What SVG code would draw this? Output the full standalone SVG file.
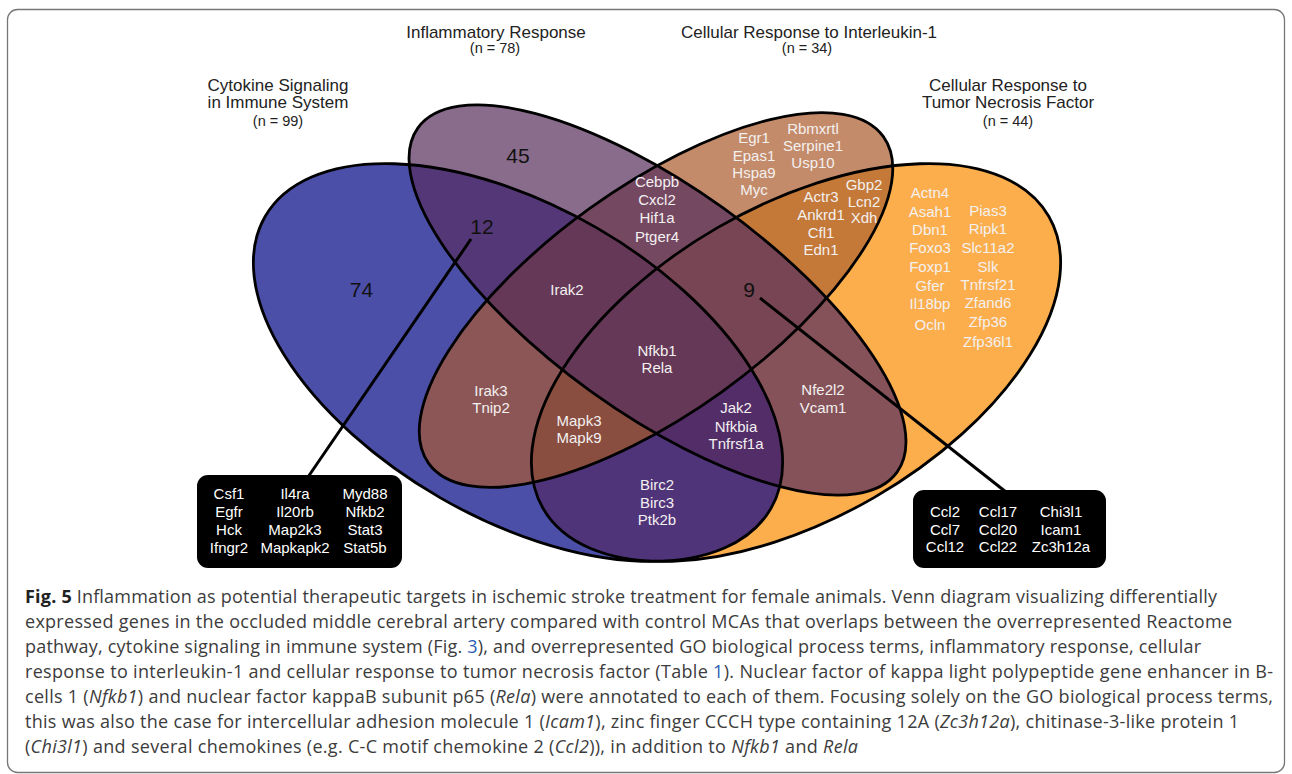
<svg xmlns="http://www.w3.org/2000/svg" width="1292" height="774" viewBox="0 0 1292 774">
<style>
.ttl{font-family:"Liberation Sans",Arial,sans-serif;font-size:17px;fill:#222;text-anchor:middle}
.n{font-family:"Liberation Sans",Arial,sans-serif;font-size:14.5px;fill:#222;text-anchor:middle}
.num{font-family:"Liberation Sans",Arial,sans-serif;font-size:21px;fill:#111;text-anchor:middle}
.g{font-family:"Liberation Sans",Arial,sans-serif;font-size:15px;fill:#F3F0F0;text-anchor:middle}
.bx{font-family:"Liberation Sans",Arial,sans-serif;font-size:15px;fill:#fff;text-anchor:middle}
.cap{font-family:"Open Sans","Noto Sans",sans-serif;font-size:18px;fill:#3c3c3c}
.outl{fill:none;stroke:#000;stroke-width:2.8}
.con{stroke:#000;stroke-width:3;fill:none}
</style>
<defs>
<clipPath id="cA"><ellipse cx="0" cy="0" rx="292" ry="156" transform="translate(518 362.5) rotate(30)"/></clipPath>
<clipPath id="cB"><ellipse cx="0" cy="0" rx="295" ry="113" transform="translate(657.5 300) rotate(35.7)"/></clipPath>
<clipPath id="cC"><ellipse cx="0" cy="0" rx="280" ry="113" transform="translate(656 300) rotate(-35.7)"/></clipPath>
<clipPath id="cD"><ellipse cx="0" cy="0" rx="292" ry="156" transform="translate(796 362.5) rotate(-30)"/></clipPath>
</defs>
<rect x="0" y="0" width="1292" height="774" fill="#fff"/>
<rect x="7.5" y="9.5" width="1277" height="763" rx="10" fill="none" stroke="#777" stroke-width="1.3"/>

<g id="venn-fills">
<rect x="0" y="0" width="1292" height="600" fill="#4B4FA8" clip-path="url(#cA)"/>
<rect x="0" y="0" width="1292" height="600" fill="#896C8C" clip-path="url(#cB)"/>
<rect x="0" y="0" width="1292" height="600" fill="#C48B6A" clip-path="url(#cC)"/>
<rect x="0" y="0" width="1292" height="600" fill="#FCAE4C" clip-path="url(#cD)"/>
<g clip-path="url(#cA)"><rect x="0" y="0" width="1292" height="600" fill="#543776" clip-path="url(#cB)"/></g>
<g clip-path="url(#cA)"><rect x="0" y="0" width="1292" height="600" fill="#8B5655" clip-path="url(#cC)"/></g>
<g clip-path="url(#cA)"><rect x="0" y="0" width="1292" height="600" fill="#503479" clip-path="url(#cD)"/></g>
<g clip-path="url(#cB)"><rect x="0" y="0" width="1292" height="600" fill="#754862" clip-path="url(#cC)"/></g>
<g clip-path="url(#cB)"><rect x="0" y="0" width="1292" height="600" fill="#855259" clip-path="url(#cD)"/></g>
<g clip-path="url(#cC)"><rect x="0" y="0" width="1292" height="600" fill="#C47938" clip-path="url(#cD)"/></g>
<g clip-path="url(#cA)"><g clip-path="url(#cB)"><rect x="0" y="0" width="1292" height="600" fill="#653858" clip-path="url(#cC)"/></g></g>
<g clip-path="url(#cA)"><g clip-path="url(#cB)"><rect x="0" y="0" width="1292" height="600" fill="#522D68" clip-path="url(#cD)"/></g></g>
<g clip-path="url(#cA)"><g clip-path="url(#cC)"><rect x="0" y="0" width="1292" height="600" fill="#8A4E40" clip-path="url(#cD)"/></g></g>
<g clip-path="url(#cB)"><g clip-path="url(#cC)"><rect x="0" y="0" width="1292" height="600" fill="#784554" clip-path="url(#cD)"/></g></g>
<g clip-path="url(#cA)"><g clip-path="url(#cB)"><g clip-path="url(#cC)"><rect x="0" y="0" width="1292" height="600" fill="#643856" clip-path="url(#cD)"/></g></g></g>
</g>

<g id="set-cytokine">
<ellipse class="outl" cx="0" cy="0" rx="292" ry="156" transform="translate(518 362.5) rotate(30)"/>
<text class="ttl" x="278" y="91">Cytokine Signaling</text>
<text class="ttl" x="278" y="108">in Immune System</text>
<text class="n" x="278" y="126">(n = 99)</text>
</g>
<g id="set-inflammatory">
<ellipse class="outl" cx="0" cy="0" rx="295" ry="113" transform="translate(657.5 300) rotate(35.7)"/>
<text class="ttl" x="496" y="38">Inflammatory Response</text>
<text class="n" x="495" y="53">(n = 78)</text>
</g>
<g id="set-il1">
<ellipse class="outl" cx="0" cy="0" rx="280" ry="113" transform="translate(656 300) rotate(-35.7)"/>
<text class="ttl" x="809" y="38">Cellular Response to Interleukin-1</text>
<text class="n" x="807" y="53">(n = 34)</text>
</g>
<g id="set-tnf">
<ellipse class="outl" cx="0" cy="0" rx="292" ry="156" transform="translate(796 362.5) rotate(-30)"/>
<text class="ttl" x="1008" y="91">Cellular Response to</text>
<text class="ttl" x="1008" y="108">Tumor Necrosis Factor</text>
<text class="n" x="1008" y="126">(n = 44)</text>
</g>

<g id="connectors">
<line class="con" x1="471" y1="239" x2="308" y2="477"/>
<line class="con" x1="760" y1="298" x2="1006" y2="492"/>
</g>

<g id="r-A"><text class="num" x="361.5" y="297">74</text></g>
<g id="r-B"><text class="num" x="518" y="163">45</text></g>
<g id="r-AB"><text class="num" x="482" y="234">12</text></g>
<g id="r-BCD"><text class="num" x="749" y="297">9</text></g>
<g id="r-C">
<text class="g" x="754" y="143">Egr1</text><text class="g" x="754" y="161">Epas1</text><text class="g" x="754" y="178">Hspa9</text><text class="g" x="754" y="195">Myc</text>
<text class="g" x="813" y="134">Rbmxrtl</text><text class="g" x="813" y="151">Serpine1</text><text class="g" x="813" y="168">Usp10</text>
</g>
<g id="r-BC">
<text class="g" x="657" y="187">Cebpb</text><text class="g" x="657" y="205">Cxcl2</text><text class="g" x="657" y="223">Hif1a</text><text class="g" x="657" y="242">Ptger4</text>
</g>
<g id="r-CD">
<text class="g" x="821" y="202">Actr3</text><text class="g" x="821" y="220">Ankrd1</text><text class="g" x="821" y="238">Cfl1</text><text class="g" x="821" y="255">Edn1</text>
<text class="g" x="864" y="190">Gbp2</text><text class="g" x="864" y="207">Lcn2</text><text class="g" x="864" y="223">Xdh</text>
</g>
<g id="r-D">
<text class="g" x="930" y="198">Actn4</text><text class="g" x="930" y="217">Asah1</text><text class="g" x="930" y="235">Dbn1</text><text class="g" x="930" y="253">Foxo3</text><text class="g" x="930" y="272">Foxp1</text><text class="g" x="930" y="291">Gfer</text><text class="g" x="930" y="309">Il18bp</text><text class="g" x="930" y="330">Ocln</text>
<text class="g" x="988" y="216">Pias3</text><text class="g" x="988" y="234">Ripk1</text><text class="g" x="988" y="253">Slc11a2</text><text class="g" x="988" y="272">Slk</text><text class="g" x="988" y="290">Tnfrsf21</text><text class="g" x="988" y="308">Zfand6</text><text class="g" x="988" y="327">Zfp36</text><text class="g" x="988" y="347">Zfp36l1</text>
</g>
<g id="r-ABC"><text class="g" x="567" y="295">Irak2</text></g>
<g id="r-ABCD"><text class="g" x="657" y="356">Nfkb1</text><text class="g" x="657" y="373">Rela</text></g>
<g id="r-AC"><text class="g" x="491" y="396">Irak3</text><text class="g" x="491" y="413">Tnip2</text></g>
<g id="r-ACD"><text class="g" x="579" y="426">Mapk3</text><text class="g" x="579" y="443">Mapk9</text></g>
<g id="r-ABD"><text class="g" x="736" y="413">Jak2</text><text class="g" x="736" y="432">Nfkbia</text><text class="g" x="736" y="449">Tnfrsf1a</text></g>
<g id="r-AD"><text class="g" x="657" y="490">Birc2</text><text class="g" x="657" y="508">Birc3</text><text class="g" x="657" y="525">Ptk2b</text></g>
<g id="r-BD"><text class="g" x="823" y="395">Nfe2l2</text><text class="g" x="823" y="413">Vcam1</text></g>

<g id="box-12">
<rect x="197" y="475" width="205" height="93" rx="11" fill="#000"/>
<text class="bx" x="229" y="499">Csf1</text><text class="bx" x="229" y="517">Egfr</text><text class="bx" x="229" y="535">Hck</text><text class="bx" x="229" y="553">Ifngr2</text>
<text class="bx" x="295" y="499">Il4ra</text><text class="bx" x="295" y="517">Il20rb</text><text class="bx" x="295" y="535">Map2k3</text><text class="bx" x="295" y="553">Mapkapk2</text>
<text class="bx" x="365" y="499">Myd88</text><text class="bx" x="365" y="517">Nfkb2</text><text class="bx" x="365" y="535">Stat3</text><text class="bx" x="365" y="553">Stat5b</text>
</g>
<g id="box-9">
<rect x="913" y="490" width="193" height="78" rx="11" fill="#000"/>
<text class="bx" x="945" y="517">Ccl2</text><text class="bx" x="945" y="535">Ccl7</text><text class="bx" x="945" y="552">Ccl12</text>
<text class="bx" x="998" y="517">Ccl17</text><text class="bx" x="998" y="535">Ccl20</text><text class="bx" x="998" y="552">Ccl22</text>
<text class="bx" x="1061" y="517">Chi3l1</text><text class="bx" x="1061" y="535">Icam1</text><text class="bx" x="1061" y="552">Zc3h12a</text>
</g>

<g id="caption">
<text class="cap" x="25" y="603" textLength="1192" lengthAdjust="spacing"><tspan font-weight="bold" fill="#222">Fig. 5</tspan> Inflammation as potential therapeutic targets in ischemic stroke treatment for female animals. Venn diagram visualizing differentially</text>
<text class="cap" x="25" y="628" textLength="1207" lengthAdjust="spacing">expressed genes in the occluded middle cerebral artery compared with control MCAs that overlaps between the overrepresented Reactome</text>
<text class="cap" x="25" y="653" textLength="1176" lengthAdjust="spacing">pathway, cytokine signaling in immune system (Fig. <tspan fill="#2B5FB4">3</tspan>), and overrepresented GO biological process terms, inflammatory response, cellular</text>
<text class="cap" x="25" y="678" textLength="1248" lengthAdjust="spacing">response to interleukin-1 and cellular response to tumor necrosis factor (Table <tspan fill="#2B5FB4">1</tspan>). Nuclear factor of kappa light polypeptide gene enhancer in B-</text>
<text class="cap" x="25" y="703" textLength="1248" lengthAdjust="spacing">cells 1 (<tspan font-style="italic">Nfkb1</tspan>) and nuclear factor kappaB subunit p65 (<tspan font-style="italic">Rela</tspan>) were annotated to each of them. Focusing solely on the GO biological process terms,</text>
<text class="cap" x="25" y="728" textLength="1214" lengthAdjust="spacing">this was also the case for intercellular adhesion molecule 1 (<tspan font-style="italic">Icam1</tspan>), zinc finger CCCH type containing 12A (<tspan font-style="italic">Zc3h12a</tspan>), chitinase-3-like protein 1</text>
<text class="cap" x="25" y="753" textLength="833" lengthAdjust="spacing">(<tspan font-style="italic">Chi3l1</tspan>) and several chemokines (e.g. C-C motif chemokine 2 (<tspan font-style="italic">Ccl2</tspan>)), in addition to <tspan font-style="italic">Nfkb1</tspan> and <tspan font-style="italic">Rela</tspan></text>
</g>
</svg>
